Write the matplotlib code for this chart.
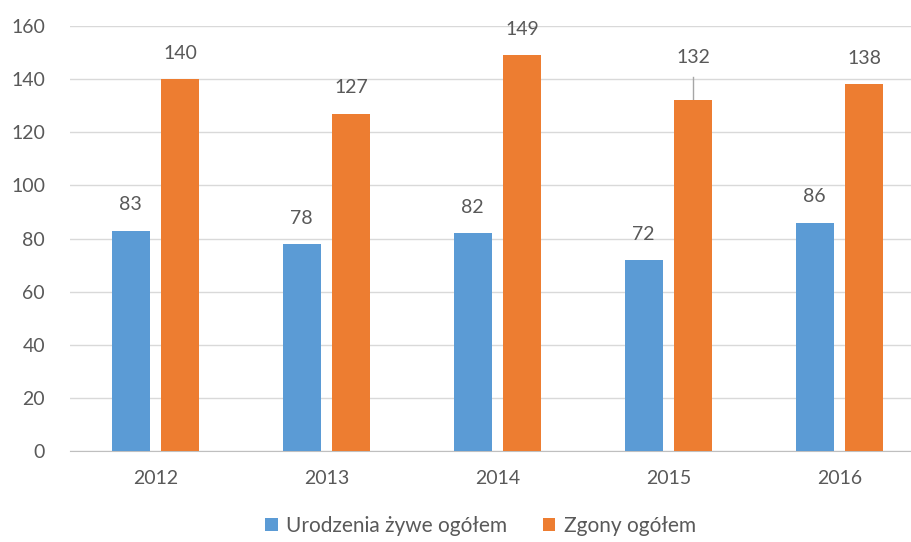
import matplotlib.pyplot as plt
import numpy as np

# data
years = ['2012', '2013', '2014', '2015', '2016']
births = [83, 78, 82, 72, 86]
deaths = [140, 127, 149, 132, 138]
series_names = ['Urodzenia żywe ogółem', 'Zgony ogółem']

blue = '#5B9BD5'
orange = '#ED7D31'
text_col = '#595959'

plt.rcParams['font.family'] = ['Lato', 'DejaVu Sans']

fig = plt.figure(figsize=(9.12, 5.42), dpi=100)
# plot area runs a little past the right edge, like the screenshot
ax = fig.add_axes([70 / 912, 1 - 451 / 542, 855 / 912, (451 - 26) / 542])

x = np.arange(len(years))
w = 0.222
off = 0.146
b1 = ax.bar(x - off, births, w, color=blue, label=series_names[0], zorder=3)
b2 = ax.bar(x + off, deaths, w, color=orange, label=series_names[1], zorder=3)

# value labels
for xi, v in zip(x - off, births):
    ax.annotate(str(v), (xi, v), xytext=(0, 18.5), textcoords='offset points',
                ha='center', va='center', fontsize=14, color=text_col)
for i, (xi, v) in enumerate(zip(x + off, deaths)):
    if years[i] == '2015':
        # label lifted with a leader line
        ax.plot([xi, xi], [v, 140.8], color='#A6A6A6', lw=1, zorder=2)
        ax.text(xi, 148, str(v), ha='center', va='center', fontsize=14, color=text_col)
    else:
        ax.annotate(str(v), (xi, v), xytext=(0, 18.5), textcoords='offset points',
                    ha='center', va='center', fontsize=14, color=text_col)

ax.set_xlim(-0.5, len(years) - 0.5)
ax.set_ylim(0, 160)
ax.set_yticks(range(0, 161, 20))
ax.set_xticks(x)
ax.set_xticklabels(years)
ax.tick_params(axis='both', length=0, labelsize=14, labelcolor=text_col)
ax.tick_params(axis='y', pad=18)
ax.tick_params(axis='x', pad=14)

ax.grid(axis='y', color='#D9D9D9', lw=1, zorder=0)
for s in ['top', 'right', 'left']:
    ax.spines[s].set_visible(False)
ax.spines['bottom'].set_color('#BFBFBF')

fig.legend(handles=[b1, b2], loc='center', bbox_to_anchor=(0.527, 0.03),
           ncol=2, frameon=False, fontsize=15, labelcolor=text_col,
           handlelength=0.6, handleheight=0.6, handletextpad=0.4,
           columnspacing=1.7, borderpad=0.1)

fig.savefig('out.png', dpi=100)
